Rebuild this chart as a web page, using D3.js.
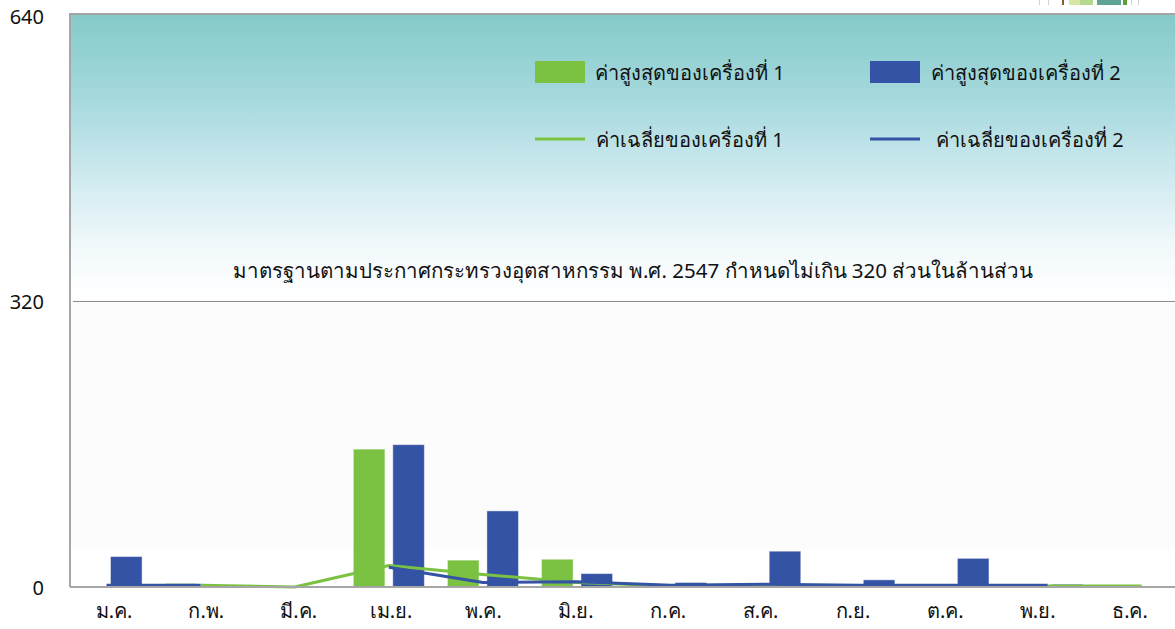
<!DOCTYPE html>
<html>
<head>
<meta charset="utf-8">
<script src="https://cdn.jsdelivr.net/npm/d3@7"></script>
<style>
  html, body { margin: 0; padding: 0; background: #ffffff; }
  svg { display: block; }
  text { font-family: "Noto Sans", "DejaVu Sans", sans-serif; fill: #111; }
</style>
</head>
<body>
<svg id="chart" width="1175" height="629"></svg>
<script>
// Monthly readings for two machines (ppm)
const months = ["ม.ค.", "ก.พ.", "มี.ค.", "เม.ย.", "พ.ค.", "มิ.ย.", "ก.ค.", "ส.ค.", "ก.ย.", "ต.ค.", "พ.ย.", "ธ.ค."];
const max1 = [0, 4, 0, 154, 30, 31, 0, 0, 0, 0, 0, 2];
const max2 = [34, 2, 0, 159, 85, 15, 5, 40, 8, 32, 3, 0];
const avg1 = [null, 2, 0, 24, 14, 5, 1, 1, 1, 1, 1, 1];
const avg2 = [2, 2, null, 22, 5, 6, 2, 3, 2, 2, 2, null];
const yTicks = [0, 320, 640];
const standardValue = 320;
const standardText = "มาตรฐานตามประกาศกระทรวงอุตสาหกรรม พ.ศ. 2547 กำหนดไม่เกิน 320 ส่วนในล้านส่วน";
const seriesNames = ["ค่าสูงสุดของเครื่องที่ 1", "ค่าสูงสุดของเครื่องที่ 2", "ค่าเฉลี่ยของเครื่องที่ 1", "ค่าเฉลี่ยของเครื่องที่ 2"];

const green = "#7bc142", blue = "#3453a4", axisGray = "#a6a6a6";

const svg = d3.select("#chart");
const plot = { left: 70, right: 1175, top: 14, bottom: 587 };

const y = d3.scaleLinear().domain([0, 640]).range([plot.bottom, plot.top]);
const x = d3.scaleBand().domain(months).range([59.5, 1188.7]).paddingInner(0.245).paddingOuter(0.1225);
const xSub = d3.scaleBand().domain(["m1", "m2"]).range([0, x.bandwidth()]).paddingInner(0.2);
const xLabel = d3.scalePoint().domain(months).range([114, 1130]);

// background: teal fading to white above the standard line
const defs = svg.append("defs");
const grad = defs.append("linearGradient").attr("id", "bg").attr("x1", 0).attr("y1", 0).attr("x2", 0).attr("y2", 1);
[[0, "#84cac8"], [0.3, "#a6d9de"], [0.6, "#d3ecf1"], [0.8, "#f0f8fa"], [0.93, "#fbfdfe"], [1, "#ffffff"]]
  .forEach(([o, c]) => grad.append("stop").attr("offset", o).attr("stop-color", c));
svg.append("rect").attr("x", plot.left).attr("y", plot.top)
  .attr("width", plot.right - plot.left).attr("height", y(standardValue) - plot.top)
  .attr("fill", "url(#bg)");
svg.append("rect").attr("x", plot.left).attr("y", y(standardValue))
  .attr("width", plot.right - plot.left).attr("height", y(43) - y(standardValue))
  .attr("fill", "#fcfcfc");

// small decorative strip at top right
const deco = [[1039, 1, "#d0d0d0"], [1048, 1, "#d0d0d0"], [1062, 2, "#8a5a2b"], [1069, 11, "#d5e6a6"],
              [1080, 13, "#b4d88e"], [1097, 24, "#60a395"], [1123, 4, "#5a9e3a"], [1131, 1, "#d0d0d0"], [1138, 1, "#d0d0d0"]];
svg.append("g").selectAll("rect").data(deco).join("rect")
  .attr("x", d => d[0]).attr("y", 0).attr("width", d => d[1]).attr("height", 5).attr("fill", d => d[2]);

// standard line and its caption
svg.append("line").attr("x1", plot.left + 3).attr("x2", plot.right)
  .attr("y1", Math.round(y(standardValue)) + 0.5).attr("y2", Math.round(y(standardValue)) + 0.5)
  .attr("stroke", "#8c8c8c").attr("stroke-width", 1);
svg.append("text").attr("x", 633).attr("y", 278).attr("text-anchor", "middle")
  .attr("font-size", 20.5).text(standardText);

// frame
svg.append("line").attr("x1", plot.left).attr("x2", plot.right).attr("y1", plot.top).attr("y2", plot.top)
  .attr("stroke", axisGray).attr("stroke-width", 2);
svg.append("line").attr("x1", plot.left).attr("x2", plot.left).attr("y1", plot.top - 1).attr("y2", plot.bottom)
  .attr("stroke", axisGray).attr("stroke-width", 2);

// y tick labels
svg.append("g").selectAll("text").data(yTicks).join("text")
  .attr("x", 44).attr("y", d => Math.max(y(d) + 8, 24)).attr("text-anchor", "end")
  .attr("font-size", 20).text(d => d);

// bars
const barData = months.flatMap((m, i) => [
  { m, k: "m1", v: max1[i], c: green },
  { m, k: "m2", v: max2[i], c: blue }
]).filter(d => d.v > 0);
svg.append("g").selectAll("rect").data(barData).join("rect")
  .attr("x", d => x(d.m) + xSub(d.k))
  .attr("width", xSub.bandwidth())
  .attr("y", d => y(d.v))
  .attr("height", d => y(0) - y(d.v))
  .attr("fill", d => d.c)
  .attr("stroke", "rgba(255,255,255,0.45)").attr("stroke-width", 1);

// average lines
const line = d3.line()
  .defined(d => d.v != null)
  .x(d => x(d.m) + x.bandwidth() / 2)
  .y(d => y(d.v));
[[avg1, green], [avg2, blue]].forEach(([vals, c]) => {
  svg.append("path").datum(months.map((m, i) => ({ m, v: vals[i] })))
    .attr("d", line).attr("fill", "none").attr("stroke", c).attr("stroke-width", 3)
    .attr("stroke-linejoin", "round");
});

// x axis baseline
svg.append("line").attr("x1", plot.left).attr("x2", plot.right).attr("y1", plot.bottom).attr("y2", plot.bottom)
  .attr("stroke", axisGray).attr("stroke-width", 2);

// month labels
svg.append("g").selectAll("text").data(months).join("text")
  .attr("x", d => xLabel(d)).attr("y", 618).attr("text-anchor", "middle")
  .attr("font-size", 20).text(d => d);

// legend
const legend = [
  { name: seriesNames[0], c: green, type: "rect", x: 535, y: 72, tx: 595 },
  { name: seriesNames[1], c: blue, type: "rect", x: 870, y: 72, tx: 931 },
  { name: seriesNames[2], c: green, type: "line", x: 535, y: 139, tx: 596 },
  { name: seriesNames[3], c: blue, type: "line", x: 870, y: 139, tx: 936 }
];
const lg = svg.append("g").selectAll("g").data(legend).join("g");
lg.filter(d => d.type === "rect").append("rect")
  .attr("x", d => d.x).attr("y", d => d.y - 11).attr("width", 50).attr("height", 22).attr("fill", d => d.c);
lg.filter(d => d.type === "line").append("line")
  .attr("x1", d => d.x).attr("x2", d => d.x + 50).attr("y1", d => d.y).attr("y2", d => d.y)
  .attr("stroke", d => d.c).attr("stroke-width", 3);
lg.append("text").attr("x", d => d.tx).attr("y", d => d.y + 8)
  .attr("font-size", 20).text(d => d.name);
</script>
</body>
</html>
